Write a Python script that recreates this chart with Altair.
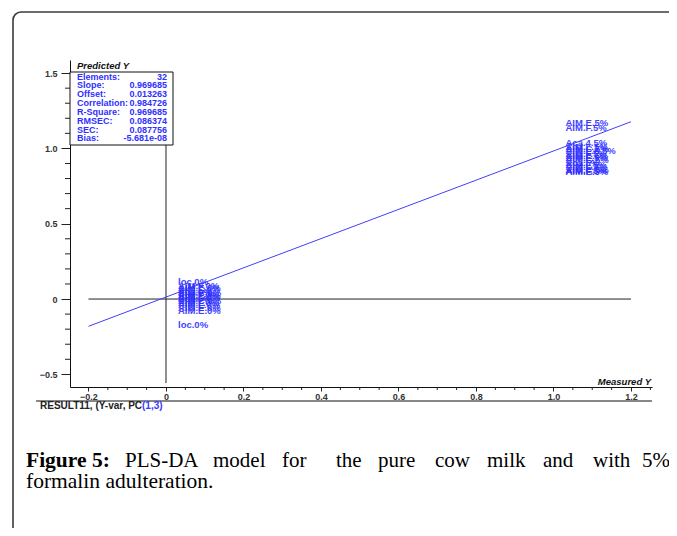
import altair as alt
import pandas as pd

# ---------------- data ----------------
names_0 = ["loc.0%", "AIM.F.0%", "AIM.E.0%", "AIM.L.0%", "Aca.0%", "AIM.C.0%",
           "AIM.F.0%", "AIM.E.0%", "AIM.L.0%", "Aca.0%", "AIM.C.0%", "AIM.F.0%",
           "AIM.L.0%", "AIM.E.0%", "AIM.E.0%", "loc.0%"]
measured_0 = [0, 0, 0, 0, 0, 0, 0, 0, 0, 0, 0, 0, 0, 0, 0, 0]
predicted_0 = [0.113, 0.085, 0.07, 0.06, 0.05, 0.04, 0.03, 0.02, 0.01, 0.0,
               -0.01, -0.025, -0.04, -0.06, -0.08, -0.173]

names_5 = ["AIM.E.5%", "AIM.F.5%", "Aca.4.5%", "AIM.L.5%", "AIM.C.5%", "AIM.L.6.5%",
           "AIM.F.5%", "AIM.E.5%", "AIM.L.5%", "AIM.C.5%", "Aca.5%", "AIM.F.5%",
           "AIM.L.5%", "AIM.C.5%", "AIM.F.5%", "AIM.E.5%"]
measured_5 = [1, 1, 1, 1, 1, 1, 1, 1, 1, 1, 1, 1, 1, 1, 1, 1]
predicted_5 = [1.169, 1.135, 1.036, 1.01, 0.995, 0.98, 0.965, 0.95, 0.935, 0.92,
               0.905, 0.89, 0.875, 0.86, 0.85, 0.843]

reg_x = [-0.2, 1.2]
reg_y = [-0.181, 1.177]

cross_h_x = [-0.2, 1.2]
cross_v_y = [-0.558, 1.5]

stat_names = ["Elements:", "Slope:", "Offset:", "Correlation:", "R-Square:",
              "RMSEC:", "SEC:", "Bias:"]
stat_values = ["32", "0.969685", "0.013263", "0.984726", "0.969685",
               "0.086374", "0.087756", "-5.681e-08"]

x_ticks = [-0.2, 0, 0.2, 0.4, 0.6, 0.8, 1.0, 1.2]
y_ticks = [-0.5, 0, 0.5, 1.0, 1.5]
x_minor = [-0.15, -0.1, -0.05, 0.05, 0.1, 0.15, 0.25, 0.3, 0.35, 0.45, 0.5, 0.55,
           0.65, 0.7, 0.75, 0.85, 0.9, 0.95, 1.05, 1.1, 1.15, 1.25]
y_minor = [-0.4, -0.3, -0.2, -0.1, 0.1, 0.2, 0.3, 0.4, 0.6, 0.7, 0.8, 0.9,
           1.1, 1.2, 1.3, 1.4]

caption_line1 = ["PLS-DA", "model", "for", "the", "pure", "cow", "milk", "and", "with", "5%"]
caption_bold = "Figure 5:"
caption_line2 = "formalin adulteration."

# ---------------- layout ----------------
W, H = 582, 327
X_DOM = [-0.2477, 1.2542]
Y_DOM = [-0.584, 1.587]
caption_x = [125, 213, 282, 336, 378, 435, 487, 543, 593, 642]  # page x of words
OX, OY = 70, 60  # page position of the plot area

BLUE = "#2f2fff"
FONT = "Liberation Sans"
FRAME = "#3a3a3a"

xs = alt.Scale(domain=X_DOM, nice=False, zero=False)
ys = alt.Scale(domain=Y_DOM, nice=False, zero=False)
LBL = "datum.value == 0 ? '0' : format(datum.value, '.1f')"
x_axis = alt.Axis(values=x_ticks, tickSize=4, labelPadding=1, grid=False, title=None,
                  domainColor="#111111", tickColor="#222222", labelFont=FONT,
                  labelFontWeight="bold", labelFontSize=9, labelColor="#333333",
                  labelExpr=LBL)
y_axis = alt.Axis(values=y_ticks, tickSize=9, labelPadding=4, grid=False, title=None,
                  domainColor="#111111", tickColor="#222222", labelFont=FONT,
                  labelFontWeight="bold", labelFontSize=9, labelColor="#333333",
                  labelExpr=LBL)


def X(f):
    return alt.X(f, type="quantitative", scale=xs, axis=x_axis)


def Y(f):
    return alt.Y(f, type="quantitative", scale=ys, axis=y_axis)


samples = pd.DataFrame({
    "name": names_0 + names_5,
    "measured": measured_0 + measured_5,
    "predicted": predicted_0 + predicted_5,
})

one = pd.DataFrame({"a": [0]})


def txt(text, px, py, **kw):
    return alt.Chart(one).mark_text(**kw).encode(
        x=alt.value(px - OX), y=alt.value(py - OY), text=alt.value(text))


layers = []

# page frame: top and left edges with a rounded corner
layers.append(alt.Chart(one).mark_rule(color=FRAME, strokeWidth=1.6).encode(
    x=alt.value(21 - OX), x2=alt.value(2000), y=alt.value(12 - OY)))
layers.append(alt.Chart(one).mark_rule(color=FRAME, strokeWidth=1.6).encode(
    x=alt.value(13 - OX), y=alt.value(20 - OY), y2=alt.value(2000)))
layers.append(alt.Chart(one).mark_arc(color=FRAME, theta=4.7124, theta2=6.2832,
                                      radius=8.8, radius2=7.2).encode(
    x=alt.value(21 - OX), y=alt.value(20 - OY)))

# horizontal and vertical cross lines
layers.append(alt.Chart(pd.DataFrame({"x": [cross_h_x[0]], "x2": [cross_h_x[1]], "y": [0]}))
              .mark_rule(color="#222222", strokeWidth=1)
              .encode(x=X("x"), x2="x2:Q", y=Y("y")))
layers.append(alt.Chart(pd.DataFrame({"x": [0], "y": [cross_v_y[0]], "y2": [cross_v_y[1]]}))
              .mark_rule(color="#222222", strokeWidth=1)
              .encode(x=X("x"), y=Y("y"), y2="y2:Q"))

# minor ticks
layers.append(alt.Chart(pd.DataFrame({"v": y_minor})).mark_rule(color="#222222").encode(
    y=Y("v"), x=alt.value(-5), x2=alt.value(0)))
layers.append(alt.Chart(pd.DataFrame({"v": x_minor})).mark_rule(color="#222222").encode(
    x=X("v"), y=alt.value(H), y2=alt.value(H + 3)))

# regression line
layers.append(alt.Chart(pd.DataFrame({"x": reg_x, "y": reg_y})).mark_line(
    color="#4040fa", strokeWidth=1).encode(x=X("x"), y=Y("y")))

# sample labels
layers.append(alt.Chart(samples).mark_text(
    align="left", baseline="middle", dx=12, font=FONT, fontWeight="bold",
    fontSize=9.5, color=BLUE, opacity=0.9).encode(
    x=X("measured"), y=Y("predicted"), text="name:N"))

# statistics box
layers.append(alt.Chart(one).mark_rect(fill="white", stroke="#111111", strokeWidth=1).encode(
    x=alt.value(0), x2=alt.value(103), y=alt.value(12), y2=alt.value(85)))
layers.append(txt("Predicted Y", 77, 66, align="left", baseline="middle", font=FONT,
                  fontWeight="bold", fontStyle="italic", fontSize=9.5, color="#111111"))
for i, (n, v) in enumerate(zip(stat_names, stat_values)):
    py = 76.5 + i * 8.85
    layers.append(txt(n, 77, py, align="left", baseline="middle", font=FONT,
                      fontWeight="bold", fontSize=9, color=BLUE))
    layers.append(txt(v, 167, py, align="right", baseline="middle", font=FONT,
                      fontWeight="bold", fontSize=9, color=BLUE))

# axis titles and bottom strip
layers.append(txt("Measured Y", 651, 382, align="right", baseline="middle", font=FONT,
                  fontWeight="bold", fontStyle="italic", fontSize=9.5, color="#111111"))
layers.append(alt.Chart(one).mark_rule(color="#111111", strokeWidth=1).encode(
    x=alt.value(36 - OX), x2=alt.value(652 - OX), y=alt.value(401 - OY)))
layers.append(txt("RESULT11, (Y-var, PC", 40, 406, align="left", baseline="middle",
                  font=FONT, fontWeight="bold", fontSize=10, color="#222222"))
layers.append(txt("(1,3)", 142, 406, align="left", baseline="middle",
                  font=FONT, fontWeight="bold", fontSize=10, color="#3a3aff"))

# caption
layers.append(txt(caption_bold, 26, 467, align="left", baseline="alphabetic",
                  font="Liberation Serif", fontWeight="bold", fontSize=21.5, color="#000000"))
for w, cx in zip(caption_line1, caption_x):
    layers.append(txt(w, cx, 467, align="left", baseline="alphabetic",
                      font="Liberation Serif", fontSize=21, color="#000000"))
layers.append(txt(caption_line2, 26, 488, align="left", baseline="alphabetic",
                  font="Liberation Serif", fontSize=21.5, color="#000000"))

chart = alt.layer(*layers).properties(
    width=W, height=H,
    autosize=alt.AutoSizeParams(type="none"),
    padding={"left": 62, "top": 52, "right": 17, "bottom": 141},
    background="white",
).configure_view(stroke=None)

chart.save("out.html", embed_options={"renderer": "svg", "actions": False})
